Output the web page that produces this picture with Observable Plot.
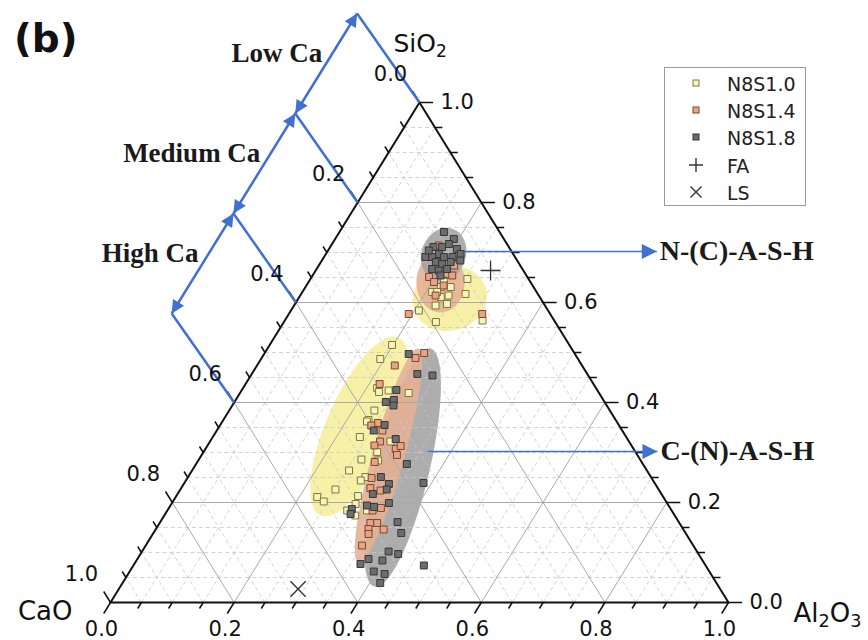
<!DOCTYPE html>
<html><head><meta charset="utf-8">
<script src="https://cdn.jsdelivr.net/npm/d3@7"></script>
<script src="https://cdn.jsdelivr.net/npm/@observablehq/plot@0.6"></script>
<style>
body{margin:0;background:#fff;}
#wrap{position:relative;width:868px;height:640px;font-family:"DejaVu Sans",sans-serif;overflow:hidden;}
#panel{position:absolute;left:14px;top:17px;font-weight:bold;font-size:39px;line-height:44px;color:#111;}
#legend{position:absolute;left:664px;top:67px;width:142px;height:139px;border:1px solid #9a9a9a;box-sizing:border-box;background:#fff;}
.row{position:absolute;left:0;width:140px;height:24px;}
.row svg{position:absolute;left:21px;top:0;}
.row span{position:absolute;left:62px;top:1px;font-size:19px;line-height:22px;color:#222;}
</style></head><body><div id="wrap"><div id="panel">(b)</div></div><script>
// ---------- data (fractions: Al2O3, SiO2; CaO = 1 - Al2O3 - SiO2) ----------
const seriesNames = ["N8S1.0", "N8S1.4", "N8S1.8"];
const n10 = [
  [0.254,0.647],[0.266,0.617],[0.219,0.641],[0.219,0.631],[0.210,0.621],[0.240,0.614],[0.229,0.611],
  [0.229,0.594],[0.246,0.597],[0.207,0.584],[0.246,0.561],[0.320,0.564],[0.218,0.621],[0.235,0.631],
  [0.198,0.515],[0.193,0.487],[0.217,0.429],[0.224,0.421],[0.238,0.424],[0.273,0.419],[0.235,0.384],
  [0.235,0.365],[0.234,0.362],[0.238,0.331],[0.292,0.322],[0.281,0.301],[0.263,0.286],[0.254,0.264],
  [0.287,0.251],[0.283,0.244],[0.251,0.226],[0.229,0.211],[0.294,0.213],[0.291,0.284],[0.244,0.202],
  [0.291,0.184],[0.298,0.197],[0.309,0.174],[0.323,0.184]
];
const n14 = [
  [0.174,0.714],[0.219,0.674],[0.190,0.651],[0.203,0.641],[0.216,0.657],[0.226,0.654],[0.219,0.614],
  [0.194,0.577],[0.313,0.577],[0.222,0.634],
  [0.258,0.499],[0.249,0.489],[0.223,0.474],[0.217,0.437],[0.253,0.359],[0.245,0.354],[0.268,0.344],
  [0.275,0.322],[0.270,0.314],[0.308,0.307],[0.313,0.313],[0.316,0.295],[0.287,0.281],[0.298,0.249],
  [0.306,0.229],[0.325,0.224],[0.332,0.184],[0.343,0.189],[0.341,0.159],[0.352,0.159],[0.369,0.146],
  [0.344,0.147],[0.349,0.137],[0.350,0.114]
];
const n18 = [
  [0.169,0.741],[0.192,0.727],[0.189,0.717],[0.181,0.711],[0.167,0.711],[0.207,0.707],[0.218,0.697],
  [0.164,0.691],[0.175,0.691],[0.183,0.697],[0.194,0.691],[0.208,0.691],[0.224,0.684],[0.186,0.681],
  [0.198,0.677],[0.210,0.681],[0.187,0.667],[0.199,0.664],[0.211,0.667],[0.207,0.654],[0.163,0.704],
  [0.234,0.497],[0.268,0.457],[0.294,0.454],[0.250,0.425],[0.256,0.405],[0.245,0.401],[0.261,0.394],
  [0.266,0.355],[0.254,0.344],[0.298,0.327],[0.341,0.277],[0.312,0.251],[0.332,0.237],[0.334,0.226],
  [0.316,0.217],[0.387,0.239],[0.318,0.194],[0.331,0.191],[0.351,0.199],[0.297,0.187],[0.300,0.177],
  [0.384,0.161],[0.401,0.139],[0.399,0.102],[0.417,0.097],[0.374,0.087],[0.366,0.077],[0.398,0.084],
  [0.395,0.062],[0.415,0.057],[0.417,0.039],[0.470,0.074]
];
const rawMaterials = ["FA", "LS"];
const rawAl2O3 = [0.283, 0.290];
const rawSiO2 = [0.664, 0.027];
// confidence ellipses (listed in drawing order): centre (plot x,y units) and two semi-axis vectors
const ellipseSeries = ["N8S1.0","N8S1.0","N8S1.4","N8S1.8","N8S1.8","N8S1.4"];
const ellipseCx = [0.549, 0.403, 0.534, 0.539, 0.4725, 0.4498];
const ellipseCy = [0.608, 0.352, 0.640, 0.696, 0.270, 0.294];
const ellipseU = [[0.060,0.012],[0.0631,0.178],[0,0.060],[0.005,0.053],[0.0453,0.238],[0.0485,0.214]];
const ellipseV = [[0.0065,-0.064],[0.0489,-0.0264],[0.039,0],[0.0365,0],[0.0426,-0.0124],[0.0249,-0.0086]];
// axis ticks
const tickValues = [0, 0.2, 0.4, 0.6, 0.8, 1.0];
const tickLabels = ["0.0","0.2","0.4","0.6","0.8","1.0"];
// annotations
const caLevels = [0, 0.2, 0.4, 0.6];
const caBandLabels = ["Low Ca", "Medium Ca", "High Ca"];
const phaseLabels = ["N-(C)-A-S-H", "C-(N)-A-S-H"];
const phaseY = [0.702, 0.302];
const phaseX1 = [0.563, 0.513];
const phaseX2 = [0.884, 0.885];

// ---------- helpers ----------
const P = (a, s) => [a + s / 2, s];
const styles = {
  "N8S1.0": {fill: "#f6f3c4", stroke: "#7c7a2c", area: "#f6ef9e"},
  "N8S1.4": {fill: "#e6a586", stroke: "#7d4630", area: "#e6b093"},
  "N8S1.8": {fill: "#6d6d6d", stroke: "#363636", area: "#a4a4a4"}
};
const BLUE = "#4070d1", BLUE2 = "#4070d2";
const pts = (arr, s) => arr.map(([a, si]) => ({series: s, x: P(a, si)[0], y: P(a, si)[1]}));
const pointRows = [...pts(n10, "N8S1.0"), ...pts(n14, "N8S1.4"), ...pts(n18, "N8S1.8")];

const ellipses = ellipseSeries.map((s, i) => {
  const ring = [];
  for (let k = 0; k < 90; k++) {
    const t = (k / 90) * 2 * Math.PI;
    ring.push({series: s,
      x: ellipseCx[i] + ellipseU[i][0] * Math.cos(t) + ellipseV[i][0] * Math.sin(t),
      y: ellipseCy[i] + ellipseU[i][1] * Math.cos(t) + ellipseV[i][1] * Math.sin(t)});
  }
  return ring;
});

const steps = d3.range(0, 21).map(i => i / 20);
const isMajor = v => Math.abs(v * 5 - Math.round(v * 5)) < 1e-9;
const grid = [];
steps.filter(v => v > 0 && v < 1).forEach(v => {
  const m = isMajor(v);
  [[P(0, v), P(1 - v, v)], [P(v, 0), P(v, 1 - v)], [P(1 - v, 0), P(0, 1 - v)]]
    .forEach(([p, q]) => grid.push({x1: p[0], y1: p[1], x2: q[0], y2: q[1], major: m}));
});
const ticks = [];
steps.forEach(v => {
  const L = isMajor(v) ? 0.022 : 0.012;
  [[P(1 - v, v), P(1 - v + L, v)], [P(v, 0), P(v, -L)], [P(0, 1 - v), P(-L, 1 - v + L)]]
    .forEach(([p, q]) => ticks.push({x1: p[0], y1: p[1], x2: q[0], y2: q[1]}));
});
const rightLab = tickValues.map((v, i) => ({x: P(1 - v, v)[0], y: v, t: tickLabels[i]}));
const bottomLab = tickValues.map((v, i) => ({x: v, y: 0, t: tickLabels[i]}));
const leftLab = tickValues.map((v, i) => ({x: P(0, 1 - v)[0], y: 1 - v, t: tickLabels[i]}));

const EXT_A = -0.19, EXT_S = 0.178;
const leaders = caLevels.map(c => {
  const p = P(0, 1 - c), q = P(EXT_A, 1 - c + EXT_S);
  return {x1: p[0], y1: p[1], x2: q[0], y2: q[1]};
});
const bands = caBandLabels.map((lab, i) => {
  const a = leaders[i], b = leaders[i + 1];
  return {x1: a.x2, y1: a.y2, x2: b.x2, y2: b.y2, xm: (a.x2 + b.x2) / 2, ym: (a.y2 + b.y2) / 2, lab};
});
const phases = phaseLabels.map((lab, i) => ({lab, x1: phaseX1[i], x2: phaseX2[i], y: phaseY[i]}));
const verts = [P(0, 0), P(1, 0), P(0, 1)].map(([x, y]) => ({x, y}));
const raw = rawMaterials.map((n, i) => ({n, x: P(rawAl2O3[i], rawSiO2[i])[0], y: rawSiO2[i]}));

const sansT = "DejaVu Sans, sans-serif";
const serifT = "Liberation Serif, serif";

const chart = Plot.plot({
  width: 868, height: 640, margin: 0,
  x: {domain: [0, 1], range: [110, 728], axis: null},
  y: {domain: [0, 1], range: [602, 102], axis: null},
  style: {background: "transparent"},
  marks: [
    ...ellipses.map(ring => Plot.line(ring, {
      x: "x", y: "y", curve: "linear-closed", fill: styles[ring[0].series].area, fillOpacity: 0.9, stroke: "none"})),
    Plot.link(grid.filter(d => !d.major), {x1: "x1", y1: "y1", x2: "x2", y2: "y2", stroke: "#c8c8c8", strokeWidth: 0.8, strokeDasharray: "4,3"}),
    Plot.link(grid.filter(d => d.major), {x1: "x1", y1: "y1", x2: "x2", y2: "y2", stroke: "#a9a9a9", strokeWidth: 1}),
    Plot.line(verts, {x: "x", y: "y", curve: "linear-closed", stroke: "#111", strokeWidth: 2}),
    Plot.link(ticks, {x1: "x1", y1: "y1", x2: "x2", y2: "y2", stroke: "#111", strokeWidth: 1.5}),
    Plot.link(leaders, {x1: "x1", y1: "y1", x2: "x2", y2: "y2", stroke: BLUE, strokeWidth: 2.5}),
    Plot.link(bands, {x1: "x1", y1: "y1", x2: "x2", y2: "y2", stroke: BLUE, strokeWidth: 2.5, strokeLinecap: "butt"}),
    Plot.link(phases, {x1: "x1", y1: "y", x2: "x2", y2: "y", stroke: BLUE2, strokeWidth: 1.5}),
    ...seriesNames.map(s => Plot.dot(pointRows.filter(d => d.series === s), {
      x: "x", y: "y", symbol: "square", r: 3.9, fill: styles[s].fill, stroke: styles[s].stroke, strokeWidth: 1})),
    Plot.dot(raw.filter(d => d.n === "FA"), {x: "x", y: "y", symbol: "plus", r: 6.5, stroke: "#333", strokeWidth: 1.3}),
    Plot.dot(raw.filter(d => d.n === "LS"), {x: "x", y: "y", symbol: "times", r: 7, stroke: "#333", strokeWidth: 1.4}),
    Plot.text(rightLab, {x: "x", y: "y", text: "t", textAnchor: "start", dx: 21, fontSize: 21, fontFamily: sansT, fill: "#111"}),
    Plot.text(bottomLab, {x: "x", y: "y", text: "t", dx: -9, dy: 27, fontSize: 21, fontFamily: sansT, fill: "#111"}),
    Plot.text(leftLab, {x: "x", y: "y", text: "t", dx: -29, dy: -28, fontSize: 21, fontFamily: sansT, fill: "#111"}),
    Plot.text([verts[2]], {x: "x", y: "y", text: () => "SiO2", textAnchor: "start", dx: -26, dy: -59, fontSize: 25, fontFamily: sansT, fill: "#111"}),
    Plot.text([verts[0]], {x: "x", y: "y", text: () => "CaO", textAnchor: "end", dx: -38, dy: 9, fontSize: 26, fontFamily: sansT, fill: "#111"}),
    Plot.text([verts[1]], {x: "x", y: "y", text: () => "Al2O3", textAnchor: "start", dx: 65, dy: 11, fontSize: 26, fontFamily: sansT, fill: "#111"}),
    Plot.text(bands, {x: "xm", y: "ym", text: "lab", textAnchor: "end", dx: -4, dy: -10, fontSize: 27, fontWeight: "bold", fontFamily: serifT, fill: "#1a1a1a"}),
    Plot.text(phases, {x: "x2", y: "y", text: "lab", textAnchor: "start", dx: 3, fontSize: 28, fontWeight: "bold", fontFamily: serifT, fill: "#1a1a1a"})
  ]
});

// filled arrowheads
const svg = d3.select(chart);
const defs = svg.append("defs");
function marker(id, w, h) {
  defs.append("marker").attr("id", id).attr("viewBox", "0 0 10 10").attr("refX", 10).attr("refY", 5)
    .attr("markerWidth", w).attr("markerHeight", h).attr("markerUnits", "userSpaceOnUse")
    .attr("orient", "auto-start-reverse")
    .append("path").attr("d", "M0,0L10,5L0,10Z").attr("fill", BLUE);
}
marker("ahB", 17, 13);
marker("ahP", 19, 15);
const bandG = svg.selectAll(`g[stroke="${BLUE}"]`).filter((d, i, n) => i === 1);
bandG.selectAll("path,line").attr("marker-start", "url(#ahB)").attr("marker-end", "url(#ahB)");
svg.selectAll(`g[stroke="${BLUE2}"] path, g[stroke="${BLUE2}"] line`).attr("marker-end", "url(#ahP)");

// chemical formula subscripts
svg.selectAll("text").each(function () {
  const t = this.textContent;
  if (t === "SiO2" || t === "Al2O3") {
    const parts = t.split(/(\d)/).filter(p => p !== "");
    const el = d3.select(this).text(null);
    let low = false;
    parts.forEach(p => {
      const isSub = /\d/.test(p);
      const ts = el.append("tspan").text(p);
      if (isSub) { ts.attr("font-size", "0.68em").attr("dy", low ? null : "0.3em"); low = true; }
      else if (low) { ts.attr("dy", "-0.2em"); low = false; }
    });
  }
});

const wrap = document.getElementById("wrap");
wrap.insertBefore(chart, wrap.firstChild);
chart.style.position = "absolute"; chart.style.left = "0"; chart.style.top = "0";

// legend
const legend = document.createElement("div");
legend.id = "legend";
const entries = [
  {lab: "N8S1.0", kind: "sq", s: "N8S1.0"},
  {lab: "N8S1.4", kind: "sq", s: "N8S1.4"},
  {lab: "N8S1.8", kind: "sq", s: "N8S1.8"},
  {lab: "FA", kind: "plus"},
  {lab: "LS", kind: "times"}
];
entries.forEach((e, i) => {
  const row = document.createElement("div");
  row.className = "row";
  row.style.top = (4 + i * 27.2) + "px";
  let sym;
  if (e.kind === "sq") sym = `<rect x="7" y="8" width="6" height="6" fill="${styles[e.s].fill}" stroke="${styles[e.s].stroke}" stroke-width="1"/>`;
  else if (e.kind === "plus") sym = `<path d="M10,4V18M3,11H17" stroke="#333" stroke-width="1.4"/>`;
  else sym = `<path d="M4.5,5.5L15.5,16.5M15.5,5.5L4.5,16.5" stroke="#333" stroke-width="1.4"/>`;
  row.innerHTML = `<svg width="20" height="22">${sym}</svg><span>${e.lab}</span>`;
  legend.appendChild(row);
});
wrap.appendChild(legend);
</script></body></html>
